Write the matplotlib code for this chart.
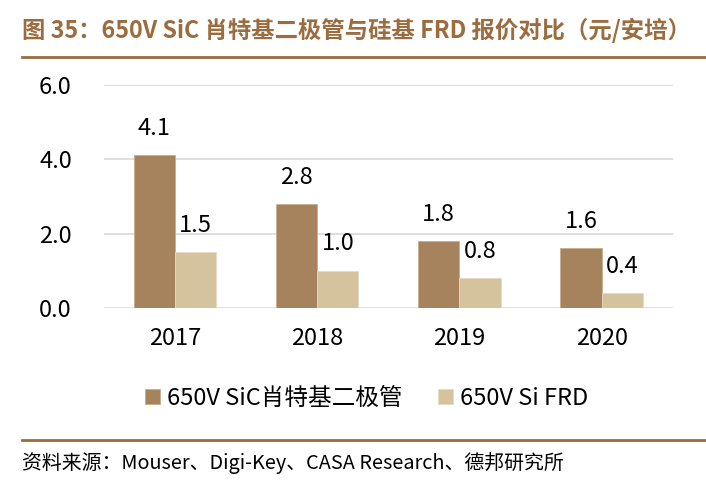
import numpy as np
import matplotlib.pyplot as plt
from matplotlib.lines import Line2D

plt.rcParams['font.family'] = ['Noto Sans CJK SC', 'DejaVu Sans']

years = ["2017", "2018", "2019", "2020"]
sic_prices = [4.1, 2.8, 1.8, 1.6]
si_frd_prices = [1.5, 1.0, 0.8, 0.4]
series_names = ["650V SiC肖特基二极管", "650V Si FRD"]
title = "图 35：650V SiC 肖特基二极管与硅基 FRD 报价对比（元/安培）"
source = "资料来源：Mouser、Digi-Key、CASA Research、德邦研究所"

SIC_COLOR = "#A6835D"
FRD_COLOR = "#D5C39D"
BROWN = "#9C6B3E"

fig = plt.figure(figsize=(7.06, 4.99), dpi=100)
ax = fig.add_axes([0.147, 0.383, 0.806, 0.447])

x = np.arange(len(years))
w = 0.29
b1 = ax.bar(x - w / 2, sic_prices, w, color=SIC_COLOR, edgecolor="#C9AE8E", linewidth=0.6,
            label=series_names[0], zorder=3)
b2 = ax.bar(x + w / 2, si_frd_prices, w, color=FRD_COLOR, edgecolor="#E6DAC0", linewidth=0.6,
            label=series_names[1], zorder=3)

for bars in (b1, b2):
    for rect in bars:
        ax.annotate(f"{rect.get_height():.1f}",
                    (rect.get_x() + rect.get_width() / 2, rect.get_height()),
                    xytext=(0, 11), textcoords="offset points",
                    ha="center", va="bottom", fontsize=17, color="black")

ax.set_xlim(-0.5, len(years) - 0.5)
ax.set_ylim(0, 6.0)
ax.set_yticks([0, 2, 4, 6])
ax.set_yticklabels([f"{v:.1f}" for v in [0, 2, 4, 6]])
ax.set_xticks(x)
ax.set_xticklabels(years)
ax.tick_params(axis="both", length=0, labelsize=17)
ax.tick_params(axis="x", pad=14)
ax.tick_params(axis="y", pad=23)
ax.yaxis.grid(True, color="#D9D9D9", linewidth=1.2, zorder=0)
for s in ax.spines.values():
    s.set_visible(False)

ax.legend(loc="center", bbox_to_anchor=(0.462, -0.405), ncol=2, frameon=False,
          fontsize=17, handlelength=0.65, handleheight=0.65, handletextpad=0.3,
          columnspacing=1.5)

# title and source with brown rules
fig.text(22 / 706, 1 - 30 / 499, title, fontsize=16.8, fontweight="bold",
         color=BROWN, ha="left", va="center")
fig.add_artist(Line2D([22 / 706, 1], [1 - 57 / 499] * 2, color=BROWN, linewidth=2))
fig.add_artist(Line2D([22 / 706, 1], [1 - 440 / 499] * 2, color=BROWN, linewidth=2))
fig.text(22 / 706, 1 - 463 / 499, source, fontsize=14.3, color="black",
         ha="left", va="center")

fig.savefig("out.png", dpi=100)
